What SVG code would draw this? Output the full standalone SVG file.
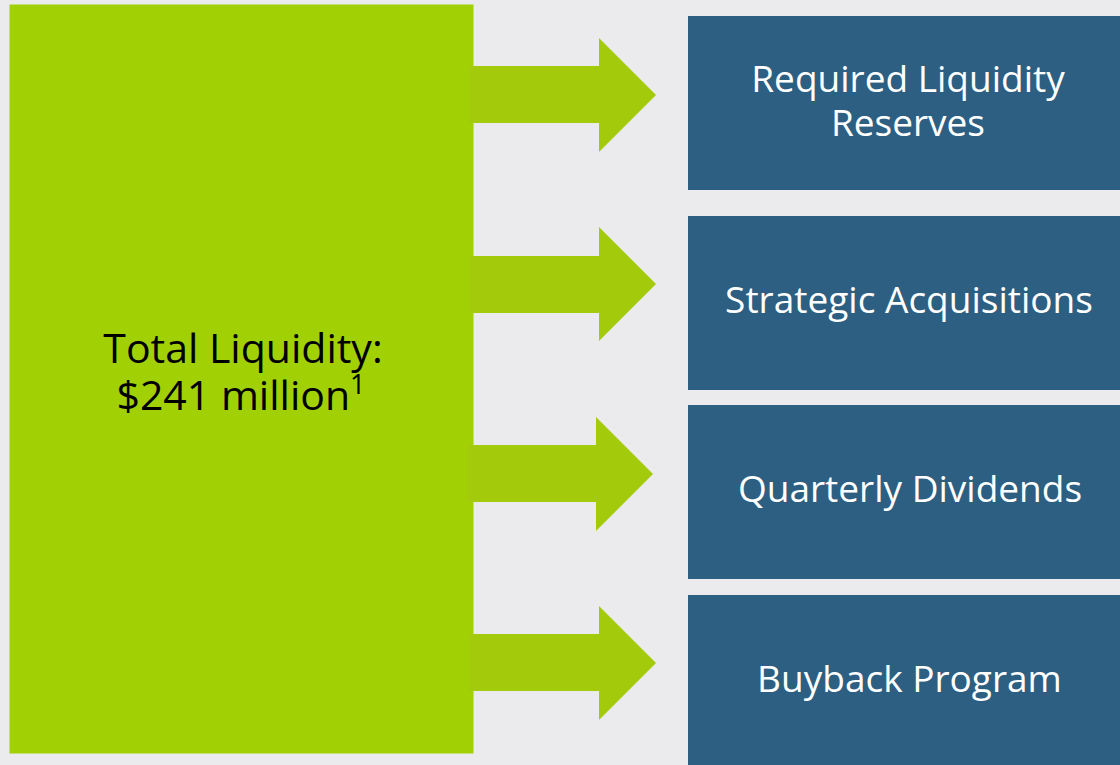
<svg xmlns="http://www.w3.org/2000/svg" width="1120" height="765" viewBox="0 0 1120 765">
<style>
.bg{fill:#EBEBED}
.src{fill:#A1D105}
.box{fill:#2D5F82}
.arr{fill:#A3CB0B}
.lbl{font-family:"Open Sans","Liberation Sans",sans-serif;font-size:37px;fill:#FFFFFF;text-anchor:middle}
.main{font-family:"Open Sans","Liberation Sans",sans-serif;font-size:41px;fill:#000000;text-anchor:middle}
</style>
<rect class="bg" x="0" y="0" width="1120" height="765"/>
<g id="total-liquidity">
<rect class="src" x="9.5" y="4.5" width="464" height="749"/>
<text class="main" x="243" y="363">Total Liquidity:</text>
<text class="main" x="241" y="410">$241 million<tspan font-size="27" dy="-16">1</tspan></text>
</g>
<g id="connectors">
<path class="arr" d="M469,66 H599 V38 L656,95 L599,152 V123 H469 Z"/>
<path class="arr" d="M469,256 H599 V227 L656,284 L599,341 V313 H469 Z"/>
<path class="arr" d="M467,445 H596 V417 L653,474 L596,531 V502 H467 Z"/>
<path class="arr" d="M469,634 H599 V606 L656,663 L599,720 V691 H469 Z"/>
</g>
<g id="required-liquidity-reserves">
<rect class="box" x="688" y="16" width="432" height="174"/>
<text class="lbl" x="908" y="92">Required Liquidity</text>
<text class="lbl" x="908" y="136">Reserves</text>
</g>
<g id="strategic-acquisitions">
<rect class="box" x="688" y="216" width="432" height="174"/>
<text class="lbl" x="909" y="313">Strategic Acquisitions</text>
</g>
<g id="quarterly-dividends">
<rect class="box" x="688" y="405" width="432" height="174"/>
<text class="lbl" x="910" y="502">Quarterly Dividends</text>
</g>
<g id="buyback-program">
<rect class="box" x="688" y="595" width="432" height="170"/>
<text class="lbl" x="909.5" y="692">Buyback Program</text>
</g>
</svg>
